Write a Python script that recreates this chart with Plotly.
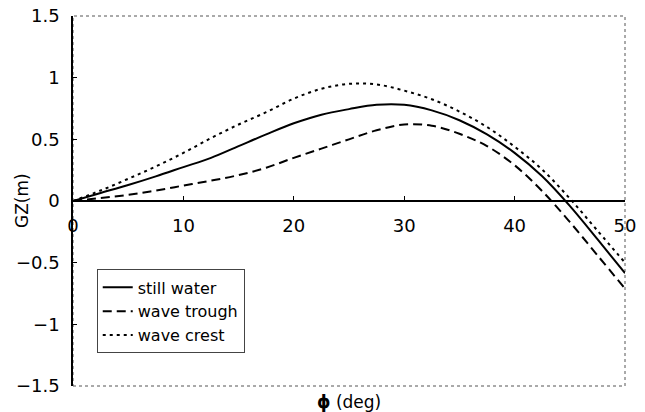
import plotly.graph_objects as go

# Heel angle (deg) and righting arm GZ (m) for three wave conditions
phi = [0, 2.5, 5, 7.5, 10, 12.5, 15, 17.5, 20, 22.5, 25,
       27.5, 30, 32.5, 35, 37.5, 40, 42.5, 45, 47.5, 50]
gz_still = [0, 0.065, 0.13, 0.20, 0.275, 0.35, 0.445, 0.54, 0.63, 0.70, 0.745,
            0.78, 0.78, 0.735, 0.655, 0.54, 0.39, 0.20, -0.04, -0.31, -0.585]
gz_trough = [0, 0.025, 0.05, 0.085, 0.125, 0.165, 0.21, 0.27, 0.35, 0.425, 0.50,
             0.573, 0.62, 0.61, 0.545, 0.445, 0.29, 0.08, -0.17, -0.44, -0.71]
gz_crest = [0, 0.085, 0.18, 0.28, 0.39, 0.51, 0.62, 0.72, 0.83, 0.91, 0.95,
            0.945, 0.895, 0.825, 0.725, 0.60, 0.44, 0.255, 0.02, -0.24, -0.50]

x_ticks = [0, 10, 20, 30, 40, 50]
y_ticks = [-1.5, -1, -0.5, 0, 0.5, 1, 1.5]
y_tick_text = ["\u22121.5", "\u22121", "\u22120.5", "0", "0.5", "1", "1.5"]

FONT = "DejaVu Sans"
TICK_FONT = dict(family=FONT, size=18, color="black")

fig = go.Figure()
fig.add_trace(go.Scatter(x=phi, y=gz_still, mode="lines", name="still water",
                         line=dict(color="black", width=2, shape="spline")))
fig.add_trace(go.Scatter(x=phi, y=gz_trough, mode="lines", name="wave trough",
                         line=dict(color="black", width=2, dash="9px,5px", shape="spline")))
fig.add_trace(go.Scatter(x=phi, y=gz_crest, mode="lines", name="wave crest",
                         line=dict(color="black", width=2, dash="3px,4px", shape="spline")))

# dotted frame around the plotting area
fig.add_shape(type="rect", xref="paper", yref="paper", x0=0, y0=0, x1=1, y1=1,
              line=dict(color="#555555", width=1, dash="dot"), layer="below")

fig.update_layout(
    width=645, height=412,
    margin=dict(l=73, r=20, t=16, b=26, autoexpand=False),
    paper_bgcolor="white", plot_bgcolor="white",
    font=dict(family=FONT, size=17, color="black"),
    showlegend=True,
    legend=dict(x=0.043, y=0.088, xanchor="left", yanchor="bottom",
                bgcolor="white", bordercolor="#444444", borderwidth=1,
                font=dict(family=FONT, size=16, color="black"),
                tracegroupgap=0),
    xaxis=dict(range=[0, 50], tickvals=x_ticks, anchor="free", position=0.5,
               showline=True, linecolor="black", linewidth=1.5,
               ticks="inside", ticklen=4, tickcolor="black",
               ticklabelstandoff=9, automargin=False,
               showgrid=False, zeroline=False,
               tickfont=TICK_FONT),
    yaxis=dict(range=[-1.5, 1.5], tickvals=y_ticks, ticktext=y_tick_text,
               showline=True, linecolor="black", linewidth=1.5,
               ticks="inside", ticklen=4, tickcolor="black",
               ticklabelstandoff=8, automargin=False,
               showgrid=False, zeroline=False,
               tickfont=TICK_FONT),
    annotations=[
        dict(text="<b>\u03d5</b> (deg)", xref="paper", yref="paper",
             x=0.5, y=0, yshift=-16, xanchor="center", yanchor="middle",
             showarrow=False, font=dict(family=FONT, size=17)),
        dict(text="GZ(m)", xref="paper", yref="paper", textangle=-90,
             x=0, y=0.5, xshift=-51, xanchor="center", yanchor="middle",
             showarrow=False, font=dict(family=FONT, size=17)),
    ],
)

fig.write_html("out.html")
